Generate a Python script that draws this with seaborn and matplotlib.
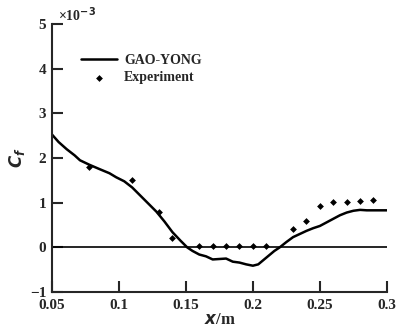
import numpy as np
import pandas as pd
import matplotlib
matplotlib.use("Agg")
import matplotlib.pyplot as plt
import seaborn as sns

# GAO-YONG computed curve (Cf x 1e3)
calc_x = [0.05, 0.055, 0.061, 0.067, 0.071, 0.078, 0.085, 0.093, 0.098, 0.104, 0.11,
          0.116, 0.122, 0.128, 0.134, 0.14, 0.146, 0.151, 0.155, 0.16, 0.165, 0.17,
          0.175, 0.18, 0.185, 0.19, 0.195, 0.2, 0.204, 0.208, 0.212, 0.216, 0.22,
          0.225, 0.23, 0.235, 0.24, 0.245, 0.25, 0.255, 0.26, 0.265, 0.27, 0.275,
          0.28, 0.285, 0.29, 0.295, 0.3]
calc_cf = [2.53, 2.36, 2.2, 2.06, 1.95, 1.85, 1.76, 1.66, 1.57, 1.48, 1.34,
           1.16, 0.98, 0.8, 0.58, 0.34, 0.15, 0.0, -0.08, -0.16, -0.2, -0.27,
           -0.26, -0.25, -0.32, -0.34, -0.38, -0.41, -0.38, -0.28, -0.18, -0.08, 0.0,
           0.12, 0.23, 0.3, 0.37, 0.43, 0.48, 0.56, 0.64, 0.72, 0.78, 0.82,
           0.84, 0.83, 0.83, 0.83, 0.83]

# experiment points
exp_x = [0.078, 0.11, 0.13, 0.14, 0.16, 0.17, 0.18, 0.19, 0.2, 0.21,
         0.23, 0.24, 0.25, 0.26, 0.27, 0.28, 0.29]
exp_cf = [1.8, 1.51, 0.8, 0.2, 0.02, 0.02, 0.02, 0.02, 0.02, 0.02,
          0.41, 0.6, 0.93, 1.02, 1.02, 1.03, 1.05]

calc = pd.DataFrame({"x": calc_x, "cf": calc_cf})
exp = pd.DataFrame({"x": exp_x, "cf": exp_cf})

sns.set_style("ticks")
plt.rcParams["font.family"] = ["Liberation Serif", "DejaVu Serif"]
plt.rcParams["font.weight"] = "bold"

fig = plt.figure(figsize=(3.96, 3.3), dpi=100)
ax = fig.add_axes([0.131, 0.115, 0.846, 0.812])

ax.axhline(0, color="black", lw=1.2, zorder=1)
sns.lineplot(data=calc, x="x", y="cf", ax=ax, color="black", lw=1.8,
             label="GAO-YONG", legend=False)
sns.scatterplot(data=exp, x="x", y="cf", ax=ax, color="black", marker="D",
                s=12, linewidth=0, label="Experiment", legend=False)

ax.set_xlim(0.05, 0.3)
ax.set_ylim(-1, 5)
ax.set_xticks([0.05, 0.1, 0.15, 0.2, 0.25, 0.3])
ax.set_xticklabels(["0.05", "0.1", "0.15", "0.2", "0.25", "0.3"])
ax.set_yticks([-1, 0, 1, 2, 3, 4, 5])
ax.set_yticklabels(["\u22121", "0", "1", "2", "3", "4", "5"])
ax.tick_params(direction="in", length=8, width=1.5, labelsize=11)
ax.tick_params(axis="x", pad=5)
ax.tick_params(axis="y", pad=4)
for lab in ax.get_xticklabels() + ax.get_yticklabels():
    lab.set_fontweight("bold")
sns.despine(ax=ax)
for s in ["left", "bottom"]:
    ax.spines[s].set_linewidth(1.5)

ax.set_xlabel("$\\mathbf{\\mathit{x}}$/m", fontsize=12, fontweight="bold", labelpad=0)
ax.set_ylabel("$\\mathit{C_f}$", fontsize=12, labelpad=2)
fig.text(0.146, 0.935, "\u00d710$^{-3}$", fontsize=10)

ax.legend(loc="upper left", bbox_to_anchor=(0.05, 0.935), frameon=False,
          handlelength=2.6, handletextpad=0.5, labelspacing=0.3,
          prop={"weight": "bold", "size": 10})

fig.savefig("out.png", dpi=100)
